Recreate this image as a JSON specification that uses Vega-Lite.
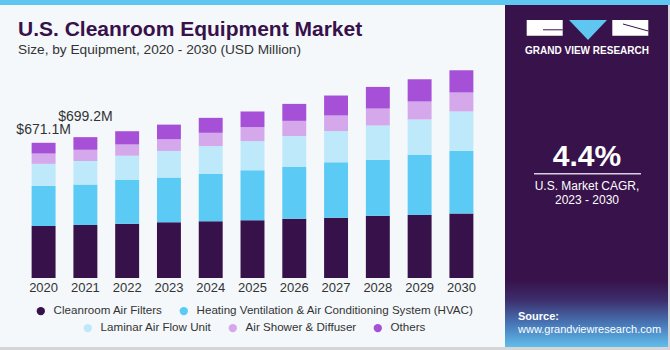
{
  "$schema": "https://vega.github.io/schema/vega-lite/v6.json",
  "background": "#f4f8fb",
  "padding": 0,
  "spacing": 0,
  "config": {"view": {"stroke": null}, "font": "Liberation Sans"},
  "datasets": {
    "bars": [
      {"year": "2020", "equipment": "Cleanroom Air Filters", "value": 258.5},
      {"year": "2020", "equipment": "Heating Ventilation & Air Conditioning System (HVAC)", "value": 198.8},
      {"year": "2020", "equipment": "Laminar Air Flow Unit", "value": 109.3},
      {"year": "2020", "equipment": "Air Shower & Diffuser", "value": 51.2},
      {"year": "2020", "equipment": "Others", "value": 53.3},
      {"year": "2021", "equipment": "Cleanroom Air Filters", "value": 263.0},
      {"year": "2021", "equipment": "Heating Ventilation & Air Conditioning System (HVAC)", "value": 200.8},
      {"year": "2021", "equipment": "Laminar Air Flow Unit", "value": 116.9},
      {"year": "2021", "equipment": "Air Shower & Diffuser", "value": 55.8},
      {"year": "2021", "equipment": "Others", "value": 62.7},
      {"year": "2022", "equipment": "Cleanroom Air Filters", "value": 268.8},
      {"year": "2022", "equipment": "Heating Ventilation & Air Conditioning System (HVAC)", "value": 217.8},
      {"year": "2022", "equipment": "Laminar Air Flow Unit", "value": 120.3},
      {"year": "2022", "equipment": "Air Shower & Diffuser", "value": 55.9},
      {"year": "2022", "equipment": "Others", "value": 65.8},
      {"year": "2023", "equipment": "Cleanroom Air Filters", "value": 277.2},
      {"year": "2023", "equipment": "Heating Ventilation & Air Conditioning System (HVAC)", "value": 221.3},
      {"year": "2023", "equipment": "Laminar Air Flow Unit", "value": 132.2},
      {"year": "2023", "equipment": "Air Shower & Diffuser", "value": 57.9},
      {"year": "2023", "equipment": "Others", "value": 72.8},
      {"year": "2024", "equipment": "Cleanroom Air Filters", "value": 282.2},
      {"year": "2024", "equipment": "Heating Ventilation & Air Conditioning System (HVAC)", "value": 234.1},
      {"year": "2024", "equipment": "Laminar Air Flow Unit", "value": 138.6},
      {"year": "2024", "equipment": "Air Shower & Diffuser", "value": 65.8},
      {"year": "2024", "equipment": "Others", "value": 74.3},
      {"year": "2025", "equipment": "Cleanroom Air Filters", "value": 287.1},
      {"year": "2025", "equipment": "Heating Ventilation & Air Conditioning System (HVAC)", "value": 247.5},
      {"year": "2025", "equipment": "Laminar Air Flow Unit", "value": 145.0},
      {"year": "2025", "equipment": "Air Shower & Diffuser", "value": 69.3},
      {"year": "2025", "equipment": "Others", "value": 77.7},
      {"year": "2026", "equipment": "Cleanroom Air Filters", "value": 293.5},
      {"year": "2026", "equipment": "Heating Ventilation & Air Conditioning System (HVAC)", "value": 257.4},
      {"year": "2026", "equipment": "Laminar Air Flow Unit", "value": 153.5},
      {"year": "2026", "equipment": "Air Shower & Diffuser", "value": 75.7},
      {"year": "2026", "equipment": "Others", "value": 84.2},
      {"year": "2027", "equipment": "Cleanroom Air Filters", "value": 298.5},
      {"year": "2027", "equipment": "Heating Ventilation & Air Conditioning System (HVAC)", "value": 275.7},
      {"year": "2027", "equipment": "Laminar Air Flow Unit", "value": 154.9},
      {"year": "2027", "equipment": "Air Shower & Diffuser", "value": 77.7},
      {"year": "2027", "equipment": "Others", "value": 99.0},
      {"year": "2028", "equipment": "Cleanroom Air Filters", "value": 308.4},
      {"year": "2028", "equipment": "Heating Ventilation & Air Conditioning System (HVAC)", "value": 278.7},
      {"year": "2028", "equipment": "Laminar Air Flow Unit", "value": 169.8},
      {"year": "2028", "equipment": "Air Shower & Diffuser", "value": 84.2},
      {"year": "2028", "equipment": "Others", "value": 107.4},
      {"year": "2029", "equipment": "Cleanroom Air Filters", "value": 313.3},
      {"year": "2029", "equipment": "Heating Ventilation & Air Conditioning System (HVAC)", "value": 297.0},
      {"year": "2029", "equipment": "Laminar Air Flow Unit", "value": 176.7},
      {"year": "2029", "equipment": "Air Shower & Diffuser", "value": 89.1},
      {"year": "2029", "equipment": "Others", "value": 110.4},
      {"year": "2030", "equipment": "Cleanroom Air Filters", "value": 320.3},
      {"year": "2030", "equipment": "Heating Ventilation & Air Conditioning System (HVAC)", "value": 311.9},
      {"year": "2030", "equipment": "Laminar Air Flow Unit", "value": 194.5},
      {"year": "2030", "equipment": "Air Shower & Diffuser", "value": 94.1},
      {"year": "2030", "equipment": "Others", "value": 110.4}
    ],
    "totals": [
      {"year": "2020", "total": 671.1, "label": "$671.1M"},
      {"year": "2021", "total": 699.2, "label": "$699.2M"}
    ]
  },
  "hconcat": [
    {
      "width": 505,
      "height": 278,
      "title": {
        "text": "U.S. Cleanroom Equipment Market",
        "subtitle": "Size, by Equipment, 2020 - 2030 (USD Million)",
        "anchor": "start",
        "frame": "group",
        "offset": -57,
        "dx": 18,
        "font": "Liberation Sans",
        "fontSize": 21,
        "fontWeight": "bold",
        "color": "#37114a",
        "subtitleFont": "Liberation Sans",
        "subtitleFontSize": 13.7,
        "subtitleColor": "#333333",
        "subtitlePadding": 3
      },
      "layer": [
        {
          "data": {"values": [{}]},
          "mark": {"type": "rect", "fill": "#5ec6f0"},
          "encoding": {
            "y": {"datum": 1380, "type": "quantitative", "scale": {"domain": [0, 1380], "nice": false, "zero": true}, "axis": null},
            "y2": {"datum": 1355.2}
          }
        },
        {
          "data": {"values": [{}]},
          "mark": {"type": "rect", "fill": "#d4d6d8"},
          "encoding": {
            "y": {"datum": -342.5, "type": "quantitative", "scale": {"domain": [0, 1380], "nice": false, "zero": true}, "axis": null},
            "y2": {"datum": -357.4}
          }
        },
        {
          "data": {"name": "bars"},
          "transform": [
            {"stack": "value", "groupby": ["year"], "as": ["v0", "v1"]},
            {"filter": {"field": "equipment", "oneOf": ["Cleanroom Air Filters", "Heating Ventilation & Air Conditioning System (HVAC)"]}}
          ],
          "mark": {"type": "bar"},
          "encoding": {
            "x": {"field": "year", "type": "ordinal", "scale": {"paddingInner": 0.427, "paddingOuter": 0.757},
              "axis": {"title": null, "labelAngle": 0, "domain": false, "ticks": false, "labelFontSize": 13, "labelColor": "#333333", "labelPadding": 3, "labelFont": "Liberation Sans"}},
            "y": {"field": "v1", "type": "quantitative", "scale": {"domain": [0, 1380], "nice": false, "zero": true}, "axis": null},
            "y2": {"field": "v0"},
            "color": {"field": "equipment", "type": "nominal",
              "scale": {"domain": ["Cleanroom Air Filters", "Heating Ventilation & Air Conditioning System (HVAC)"], "range": ["#37114a", "#5bcaf5"]},
              "legend": {"title": null, "orient": "none", "legendX": 35, "legendY": 305, "direction": "horizontal", "symbolType": "circle", "symbolSize": 70, "labelFontSize": 11.6, "labelColor": "#333333", "labelFont": "Liberation Sans", "labelOffset": 7, "columnPadding": 15, "labelLimit": 400}}
          }
        },
        {
          "data": {"name": "bars"},
          "transform": [
            {"stack": "value", "groupby": ["year"], "as": ["v0", "v1"]},
            {"filter": {"field": "equipment", "oneOf": ["Laminar Air Flow Unit", "Air Shower & Diffuser", "Others"]}}
          ],
          "mark": {"type": "bar"},
          "encoding": {
            "x": {"field": "year", "type": "ordinal"},
            "y": {"field": "v1", "type": "quantitative", "scale": {"domain": [0, 1380], "nice": false, "zero": true}, "axis": null},
            "y2": {"field": "v0"},
            "fill": {"field": "equipment", "type": "nominal",
              "scale": {"domain": ["Laminar Air Flow Unit", "Air Shower & Diffuser", "Others"], "range": ["#bde9fa", "#d4a8eb", "#a550d7"]},
              "legend": {"title": null, "orient": "none", "legendX": 82, "legendY": 322, "direction": "horizontal", "symbolType": "circle", "symbolSize": 70, "labelFontSize": 11.6, "labelColor": "#333333", "labelFont": "Liberation Sans", "labelOffset": 7, "columnPadding": 15, "labelLimit": 400}}
          }
        },
        {
          "data": {"name": "totals"},
          "transform": [{"filter": "datum.year === '2020'"}],
          "mark": {"type": "text", "fontSize": 14, "color": "#333333", "baseline": "alphabetic", "dy": -9, "font": "Liberation Sans"},
          "encoding": {
            "x": {"field": "year", "type": "ordinal"},
            "y": {"field": "total", "type": "quantitative"},
            "text": {"field": "label"}
          }
        },
        {
          "data": {"name": "totals"},
          "transform": [{"filter": "datum.year === '2021'"}],
          "mark": {"type": "text", "fontSize": 14, "color": "#333333", "baseline": "alphabetic", "dy": -16, "font": "Liberation Sans"},
          "encoding": {
            "x": {"field": "year", "type": "ordinal"},
            "y": {"field": "total", "type": "quantitative"},
            "text": {"field": "label"}
          }
        }
      ]
    },
    {
      "width": 165,
      "height": 350,
      "view": {"fill": "#38124a", "stroke": null},
      "data": {"values": [{}]},
      "layer": [
        {
          "mark": {"type": "rect", "fill": {"gradient": "linear", "x1": 0, "y1": 0, "x2": 0, "y2": 1, "stops": [{"offset": 0, "color": "#38124a"}, {"offset": 0.3, "color": "#3c2e6c"}, {"offset": 0.7, "color": "#4a80bf"}, {"offset": 1, "color": "#62bdeb"}]}},
          "encoding": {
            "x": {"datum": 0, "type": "quantitative", "scale": {"domain": [0, 165], "nice": false, "zero": false}, "axis": null},
            "x2": {"datum": 165},
            "y": {"datum": 280, "type": "quantitative", "scale": {"domain": [0, 350], "reverse": true, "nice": false, "zero": false}, "axis": null},
            "y2": {"datum": 347}
          }
        },
        {
          "mark": {"type": "rect", "fill": "#5ec6f0"},
          "encoding": {"x": {"datum": 0, "type": "quantitative"}, "x2": {"datum": 165}, "y": {"datum": 0, "type": "quantitative"}, "y2": {"datum": 5}}
        },
        {
          "mark": {"type": "rect", "fill": "#d4d6d8"},
          "encoding": {"x": {"datum": 0, "type": "quantitative"}, "x2": {"datum": 165}, "y": {"datum": 347, "type": "quantitative"}, "y2": {"datum": 350}}
        },
        {
          "mark": {"type": "rect", "fill": "#d4d6d8"},
          "encoding": {"x": {"datum": 163, "type": "quantitative"}, "x2": {"datum": 165}, "y": {"datum": 5, "type": "quantitative"}, "y2": {"datum": 350}}
        },
        {
          "mark": {"type": "rect", "fill": "#ffffff"},
          "encoding": {"x": {"datum": 21.7, "type": "quantitative"}, "x2": {"datum": 57.7}, "y": {"datum": 20, "type": "quantitative"}, "y2": {"datum": 35.7}}
        },
        {
          "mark": {"type": "rect", "fill": "#38124a"},
          "encoding": {"x": {"datum": 38, "type": "quantitative"}, "x2": {"datum": 57.7}, "y": {"datum": 29.3, "type": "quantitative"}, "y2": {"datum": 30.3}}
        },
        {
          "mark": {"type": "rect", "fill": "#ffffff"},
          "encoding": {"x": {"datum": 107.3, "type": "quantitative"}, "x2": {"datum": 143.3}, "y": {"datum": 20, "type": "quantitative"}, "y2": {"datum": 35.7}}
        },
        {
          "mark": {"type": "rule", "color": "#38124a", "strokeWidth": 1},
          "encoding": {"x": {"datum": 118, "type": "quantitative"}, "x2": {"datum": 143.3}, "y": {"datum": 24, "type": "quantitative"}, "y2": {"datum": 31}}
        },
        {
          "mark": {"type": "point", "shape": "M-1,-0.526L1,-0.526L0,0.526Z", "size": 1444, "filled": true, "fill": "#5ec6f0", "opacity": 1, "strokeWidth": 0},
          "encoding": {"x": {"datum": 83, "type": "quantitative"}, "y": {"datum": 30, "type": "quantitative"}}
        },
        {
          "mark": {"type": "text", "text": "GRAND VIEW RESEARCH", "fontSize": 10, "fontWeight": "bold", "color": "#ffffff", "align": "center", "baseline": "alphabetic", "font": "Liberation Sans"},
          "encoding": {"x": {"datum": 82, "type": "quantitative"}, "y": {"datum": 54, "type": "quantitative"}}
        },
        {
          "mark": {"type": "text", "text": "4.4%", "fontSize": 30, "fontWeight": "bold", "color": "#ffffff", "align": "center", "baseline": "alphabetic", "font": "Liberation Sans"},
          "encoding": {"x": {"datum": 82, "type": "quantitative"}, "y": {"datum": 165.7, "type": "quantitative"}}
        },
        {
          "mark": {"type": "rule", "color": "#d8d0e0", "strokeWidth": 1.5},
          "encoding": {"x": {"datum": 29, "type": "quantitative"}, "x2": {"datum": 136}, "y": {"datum": 173.7, "type": "quantitative"}}
        },
        {
          "mark": {"type": "text", "text": "U.S. Market CAGR,", "fontSize": 12, "color": "#ffffff", "align": "center", "baseline": "alphabetic", "font": "Liberation Sans"},
          "encoding": {"x": {"datum": 82, "type": "quantitative"}, "y": {"datum": 190, "type": "quantitative"}}
        },
        {
          "mark": {"type": "text", "text": "2023 - 2030", "fontSize": 12, "color": "#ffffff", "align": "center", "baseline": "alphabetic", "font": "Liberation Sans"},
          "encoding": {"x": {"datum": 82, "type": "quantitative"}, "y": {"datum": 203.5, "type": "quantitative"}}
        },
        {
          "mark": {"type": "text", "text": "Source:", "fontSize": 11, "fontWeight": "bold", "color": "#ffffff", "align": "left", "baseline": "alphabetic", "font": "Liberation Sans"},
          "encoding": {"x": {"datum": 13, "type": "quantitative"}, "y": {"datum": 320, "type": "quantitative"}}
        },
        {
          "mark": {"type": "text", "text": "www.grandviewresearch.com", "fontSize": 11, "color": "#ffffff", "align": "left", "baseline": "alphabetic", "font": "Liberation Sans"},
          "encoding": {"x": {"datum": 13, "type": "quantitative"}, "y": {"datum": 332.7, "type": "quantitative"}}
        }
      ]
    }
  ]
}
